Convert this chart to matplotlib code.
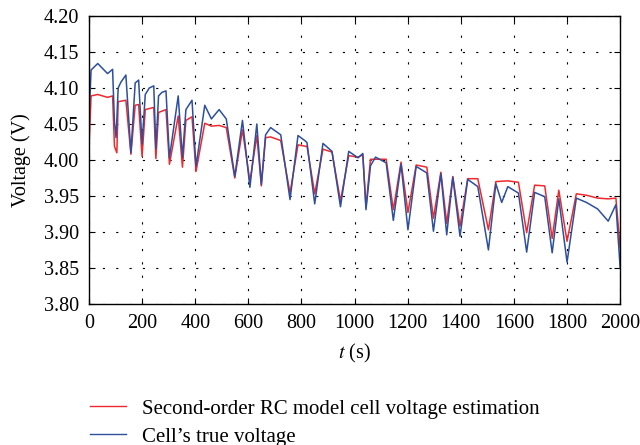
import matplotlib
matplotlib.use("Agg")
import matplotlib.pyplot as plt
from matplotlib.lines import Line2D

# model estimate (red)
t_est = [0, 8, 33, 70, 89, 96, 105, 110, 139, 158, 174, 187, 200, 212, 244, 252, 262, 290,
         303, 336, 352, 365, 388, 403, 436, 461, 490, 517, 549, 578, 606, 632, 649, 665,
         684, 722, 757, 787, 816, 821, 850, 881, 915, 947, 978, 1013, 1031, 1043, 1060,
         1119, 1146, 1175, 1201, 1232, 1272, 1297, 1325, 1347, 1370, 1397, 1426, 1464,
         1504, 1532, 1577, 1617, 1648, 1678, 1716, 1744, 1769, 1800, 1835, 1873, 1915,
         1955, 1984, 2000]
v_est = [4.015, 4.089, 4.091, 4.087, 4.089, 4.019, 4.010, 4.081, 4.083, 4.008, 4.076, 4.077,
         4.005, 4.070, 4.073, 4.002, 4.066, 4.070, 3.994, 4.061, 3.990, 4.055, 4.060, 3.984,
         4.051, 4.047, 4.048, 4.045, 3.975, 4.042, 3.970, 4.034, 3.964, 4.031, 4.032, 4.027,
         3.954, 4.021, 4.019, 4.019, 3.953, 4.015, 4.011, 3.943, 4.006, 4.004, 4.007, 3.935,
         4.001, 4.001, 3.931, 3.997, 3.927, 3.993, 3.990, 3.919, 3.983, 3.912, 3.977, 3.908,
         3.974, 3.974, 3.903, 3.970, 3.971, 3.969, 3.899, 3.965, 3.964, 3.891, 3.958, 3.887,
         3.953, 3.951, 3.947, 3.946, 3.947, 3.878]

# measured cell voltage (blue)
t_true = [0, 8, 33, 70, 89, 96, 102, 110, 120, 139, 158, 174, 187, 200, 212, 227, 244, 252,
          262, 275, 290, 303, 336, 352, 365, 388, 403, 436, 461, 490, 517, 549, 578, 606,
          632, 649, 665, 684, 722, 757, 787, 816, 821, 850, 881, 915, 947, 978, 1013, 1031,
          1043, 1060, 1079, 1119, 1146, 1175, 1201, 1232, 1272, 1297, 1325, 1347, 1370,
          1397, 1426, 1464, 1504, 1532, 1554, 1577, 1617, 1648, 1678, 1716, 1744, 1769,
          1800, 1835, 1873, 1915, 1955, 1984, 2000]
v_true = [4.055, 4.125, 4.134, 4.120, 4.126, 4.052, 4.031, 4.100, 4.108, 4.118, 4.010, 4.107,
          4.111, 4.022, 4.091, 4.100, 4.103, 4.015, 4.089, 4.094, 4.096, 4.003, 4.089, 4.003,
          4.070, 4.083, 3.991, 4.076, 4.057, 4.070, 4.057, 3.977, 4.055, 3.962, 4.050, 3.966,
          4.035, 4.045, 4.035, 3.945, 4.034, 4.026, 4.024, 3.939, 4.023, 4.012, 3.935, 4.012,
          4.003, 4.009, 3.931, 3.992, 4.004, 3.996, 3.916, 3.994, 3.903, 3.991, 3.982, 3.901,
          3.981, 3.896, 3.976, 3.894, 3.973, 3.963, 3.875, 3.967, 3.941, 3.963, 3.954, 3.872,
          3.955, 3.949, 3.871, 3.946, 3.858, 3.947, 3.941, 3.932, 3.915, 3.938, 3.850]

labels = ["Second-order RC model cell voltage estimation", "Cell\u2019s true voltage"]
red = "#ee2a2e"
blue = "#2d4f9e"

plt.rcParams["font.family"] = "Liberation Serif"
plt.rcParams["mathtext.fontset"] = "stix"
plt.rcParams["font.size"] = 14.5

fig = plt.figure(figsize=(6.4, 4.45), dpi=100)
ax = fig.add_axes([0.139, 0.317, 0.830, 0.647])

ax.plot(t_est, v_est, color=red, lw=1.1)
ax.plot(t_true, v_true, color=blue, lw=1.1)

ax.set_xlim(0, 2000)
ax.set_ylim(3.80, 4.20)
ax.set_xticks(range(0, 2001, 200))
ax.set_yticks([3.80 + 0.05 * i for i in range(9)])
ax.set_yticklabels(["%.2f" % (3.80 + 0.05 * i) for i in range(9)])

# matlab-ish sparse dotted grid
ax.grid(True, color="black", linestyle=(0, (2, 10)), linewidth=0.8)
ax.tick_params(direction="in", top=True, right=True, length=4, width=0.8, pad=7)
for s in ax.spines.values():
    s.set_linewidth(1.0)

ax.set_xlabel("$t$ (s)", labelpad=7)
ax.set_ylabel("Voltage (V)", labelpad=9)

handles = [Line2D([], [], color=red, lw=1.0), Line2D([], [], color=blue, lw=1.0)]
fig.legend(handles, labels, loc="upper left", bbox_to_anchor=(0.128, 0.122),
           frameon=False, fontsize=15, handlelength=1.73, handletextpad=0.75,
           labelspacing=0.4, borderaxespad=0)

fig.savefig("out.png", dpi=100)
